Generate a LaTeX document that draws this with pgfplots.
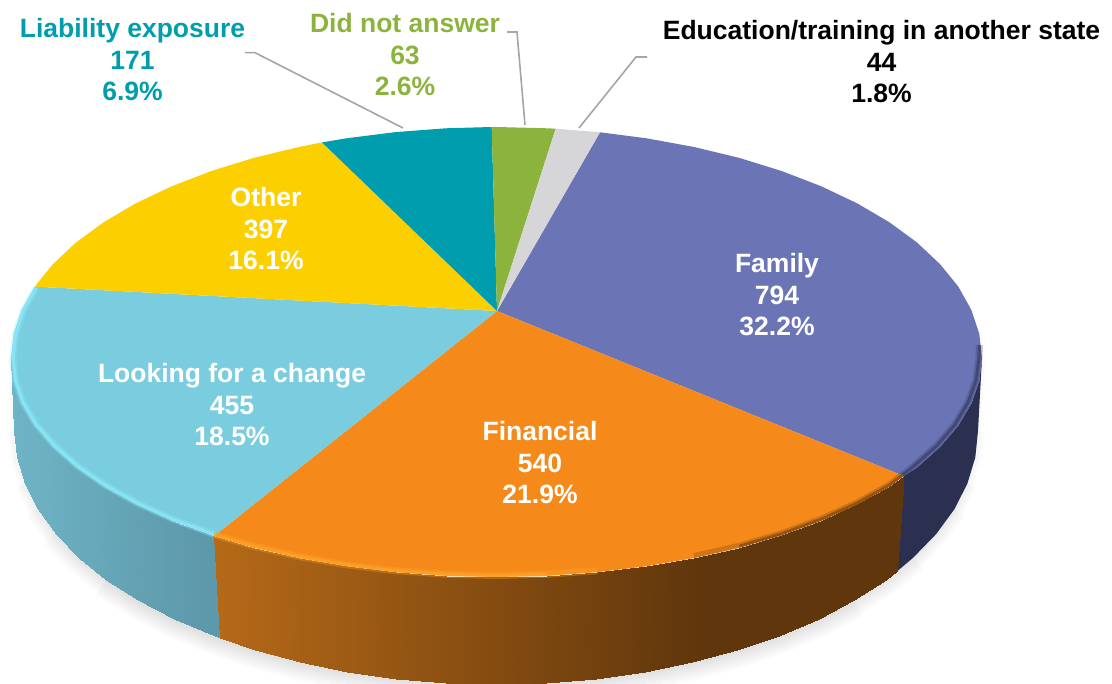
\documentclass[border=0pt]{standalone}
\usepackage{fontspec}
\setmainfont{Liberation Sans}
\usepackage{pgfplots}
\usepackage{pgfplotstable}
\pgfplotsset{compat=1.18}
\definecolor{cFam}{RGB}{107,117,181}
\definecolor{cFin}{RGB}{245,138,27}
\definecolor{cLook}{RGB}{122,205,222}
\definecolor{cOth}{RGB}{252,208,0}
\definecolor{cLia}{RGB}{0,157,174}
\definecolor{cDna}{RGB}{140,179,60}
\definecolor{cEdu}{RGB}{214,214,216}
\definecolor{cNavy}{RGB}{43,48,80}
\definecolor{cLead}{RGB}{165,165,165}
\definecolor{cBrown}{RGB}{96,54,12}
\tikzset{lab/.style={align=center, font=\fontsize{26.5}{31.5}\selectfont\bfseries}}
\pgfplotsset{
 colormap={orangeside}{rgb255(0)=(184,107,24) rgb255(200)=(184,107,24) rgb255(700)=(96,54,12) rgb255(1100)=(96,54,12)},
 colormap={blueside}{rgb255(0)=(112,182,200) rgb255(200)=(93,153,170) rgb255(700)=(93,153,170) rgb255(1100)=(93,153,170)},
}
\pgfplotstableread{
x y
982 358
978 431
975.3 457.4
967.4 483.6
954.4 509.2
936.3 533.9
913.4 557.5
885.9 579.7
854.2 600.3
818.5 619
779.3 635.7
737 650.1
692 662.1
644.9 671.6
596.2 678.5
546.4 682.6
496 684
445.6 682.6
395.8 678.5
347.1 671.6
300 662.1
255 650.1
212.7 635.7
173.5 619
137.8 600.3
106.1 579.7
78.6 557.5
55.7 533.9
37.6 509.2
24.6 483.6
16.7 457.4
14 431
11 358
}\bottomarc
\pgfplotstableread{
x y
11 358
14 431
13.7 380.9
16.7 457.4
21.6 403.5
24.6 483.6
34.7 425.7
37.6 509.2
53 447.1
55.7 533.9
76 467.5
78.6 557.5
103.7 486.7
106.1 579.7
135.7 504.5
137.8 600.3
171.7 520.7
173.5 619
214 536
220 638.4
}\blueside
\pgfplotstableread{
x y
214 536
220 638.4
253.7 547.7
255 650.1
299 558.1
300 662.1
346.5 566.3
347.1 671.6
395.6 572.2
395.8 678.5
445.8 575.8
445.6 682.6
496.5 577
496 684
547.2 575.8
546.4 682.6
597.4 572.2
596.2 678.5
646.5 566.3
644.9 671.6
694 558.1
692 662.1
739.3 547.7
737 650.1
781.9 535.2
779.3 635.7
821.3 520.7
818.5 619
857.3 504.5
854.2 600.3
889.3 486.7
885.9 579.7
903.7 476
897 571.4
}\orangeside
\pgfplotstableread{
x y
36 288
23 311
15.5 334
13 358
15.5 380.5
23 402.5
36 424.5
54.5 445.5
77.5 466
105 485
137 503
172.5 519
214 534.5
}\rimblue
\pgfplotstableread{
x y
214 534.5
253.7 546.2
299 556.6
346.5 564.8
395.6 570.7
445.8 574.3
496.5 575.5
547.2 574.3
597.4 570.7
}\rimorange
\pgfplotstableread{
x y
214 534.5
253.7 546.2
299 556.6
346.5 564.8
395.6 570.7
445.8 574.3
496.5 575.5
547.2 574.3
}\rimorangeb
\pgfplotstableread{
x y
694 556.6
739.3 546.2
781.9 533.7
821.3 519.2
857.3 503
889.3 485.2
902.5 475
}\rimbrown
\pgfplotstableread{
x y
739.3 546.2
781.9 533.7
821.3 519.2
857.3 503
889.3 485.2
902.5 475
}\rimbrownb
\pgfplotstableread{
x y
902.5 475
914.5 465.5
937 445.5
955 424.5
968 402.5
976 380.5
979 358
979.5 345
}\rimnavy
\begin{document}
\begin{tikzpicture}
\path[use as bounding box] (0,0) rectangle (1112pt,684pt);
\begin{axis}[
  at={(0,0)}, anchor=south west,
  scale only axis, width=1112pt, height=684pt,
  xmin=0, xmax=1112, ymin=0, ymax=684, y dir=reverse,
  axis lines=none, clip=true,
  point meta min=0, point meta max=1100,
]
% shadow
\addplot[draw=black, opacity=0.02, line width=6pt, no marks] table[x=x,y=y] {\bottomarc};
\addplot[draw=black, opacity=0.02, line width=12pt, no marks, restrict x to domain=13:980] table[x=x,y=y] {\bottomarc};
\addplot[draw=black, opacity=0.02, line width=18pt, no marks, restrict x to domain=20:970] table[x=x,y=y] {\bottomarc};
\addplot[draw=black, opacity=0.02, line width=24pt, no marks, restrict x to domain=30:960] table[x=x,y=y] {\bottomarc};
\addplot[draw=black, opacity=0.02, line width=30pt, no marks, restrict x to domain=50:930] table[x=x,y=y] {\bottomarc};
\addplot[draw=black, opacity=0.02, line width=36pt, no marks, restrict x to domain=100:880] table[x=x,y=y] {\bottomarc};
% sides
\addplot[draw=none, fill=cNavy, no marks] coordinates {
 (982,358) (978,431) (975.3,457.4) (967.4,483.6) (954.4,509.2) (936.3,533.9) (913.4,557.5) (897,571.4)
 (903.7,476) (917,467.5) (940,447.1) (958.3,425.7) (971.4,403.5) (979.3,380.9)} -- cycle;
\addplot[surf, shader=interp, colormap name=blueside, mesh/cols=2, point meta=x] table[x=x,y=y] {\blueside};
\addplot[surf, shader=interp, colormap name=orangeside, mesh/cols=2, point meta=x] table[x=x,y=y] {\orangeside};
% top faces
\addplot[draw=none, fill=cFam, no marks] coordinates {(497,311) (903.7,476) (917,467.5) (940,447.1) (958.3,425.7) (971.4,403.5) (979.3,380.9) (982,358)
 (979.3,333.9) (971.4,310) (958.3,286.6) (940,264.1) (917,242.5) (889.3,222.2) (857.3,203.4) (821.3,186.3) (781.9,171.1) (739.3,157.9) (694,147) (646.5,138.3) (600,132.3)} -- cycle;
\addplot[draw=none, fill=cFin, no marks] coordinates {(497,311) (214,536) (253.7,547.7) (299,558.1) (346.5,566.3) (395.6,572.2) (445.8,575.8) (496.5,577) (547.2,575.8) (597.4,572.2) (646.5,566.3) (694,558.1) (739.3,547.7) (781.9,535.2) (821.3,520.7) (857.3,504.5) (889.3,486.7) (903.7,476)} -- cycle;
\addplot[draw=none, fill=cLook, no marks] coordinates {(497,311) (34.7,286.6) (21.6,310) (13.7,333.9) (11,358) (13.7,380.9) (21.6,403.5) (34.7,425.7) (53,447.1) (76,467.5) (103.7,486.7) (135.7,504.5) (171.7,520.7) (214,536)} -- cycle;
\addplot[draw=none, fill=cOth, no marks] coordinates {(497,311) (322,142.4) (299,147) (253.7,157.9) (211.1,171.1) (171.7,186.3) (135.7,203.4) (103.7,222.2) (76,242.5) (53,264.1) (34.7,286.6)} -- cycle;
\addplot[draw=none, fill=cLia, no marks] coordinates {(497,311) (491.7,127) (445.8,128.3) (395.6,132.1) (346.5,138.3) (322,142.4)} -- cycle;
\addplot[draw=none, fill=cDna, no marks] coordinates {(497,311) (555.7,128.7) (547.2,128.3) (496.5,127) (491.7,127)} -- cycle;
\addplot[draw=none, fill=cEdu, no marks] coordinates {(497,311) (600,132.3) (555.7,128.7)} -- cycle;
% bevel
\addplot[draw={rgb,255:red,140;green,235;blue,250}, opacity=.3, line width=7pt, no marks] table[x=x,y=y] {\rimblue};
\addplot[draw={rgb,255:red,140;green,235;blue,250}, opacity=.7, line width=3pt, no marks] table[x=x,y=y] {\rimblue};
\addplot[draw={rgb,255:red,255;green,168;blue,45}, opacity=.3, line width=7pt, no marks] table[x=x,y=y] {\rimorange};
\addplot[draw={rgb,255:red,255;green,168;blue,45}, opacity=.6, line width=3pt, no marks] table[x=x,y=y] {\rimorangeb};
\addplot[draw=cBrown, opacity=.25, line width=7pt, no marks] table[x=x,y=y] {\rimbrown};
\addplot[draw=cBrown, opacity=.5, line width=3pt, no marks] table[x=x,y=y] {\rimbrownb};
\addplot[draw=cNavy, opacity=.25, line width=7pt, no marks] table[x=x,y=y] {\rimnavy};
\addplot[draw=cNavy, opacity=.5, line width=3pt, no marks] table[x=x,y=y] {\rimnavy};
% leaders
\addplot[draw=cLead, line width=1.6pt, no marks] coordinates {(245,52.7) (255,52.7) (403,128)};
\addplot[draw=cLead, line width=1.6pt, no marks] coordinates {(507,32) (517,32) (525,125)};
\addplot[draw=cLead, line width=1.6pt, no marks] coordinates {(647,57) (636,57) (579,128)};
% labels
\node[lab, text=cLia] at (axis cs:132.5,60) {Liability exposure\\171\\6.9\%};
\node[lab, text=cDna] at (axis cs:405,55) {Did not answer\\63\\2.6\%};
\node[lab, text=black] at (axis cs:881.5,62) {Education/training in another state\\44\\1.8\%};
\node[lab, text=white] at (axis cs:266,229) {Other\\397\\16.1\%};
\node[lab, text=white] at (axis cs:777,295) {Family\\794\\32.2\%};
\node[lab, text=white] at (axis cs:232,405) {Looking for a change\\455\\18.5\%};
\node[lab, text=white] at (axis cs:540,463) {Financial\\540\\21.9\%};
\end{axis}
\end{tikzpicture}
\end{document}
